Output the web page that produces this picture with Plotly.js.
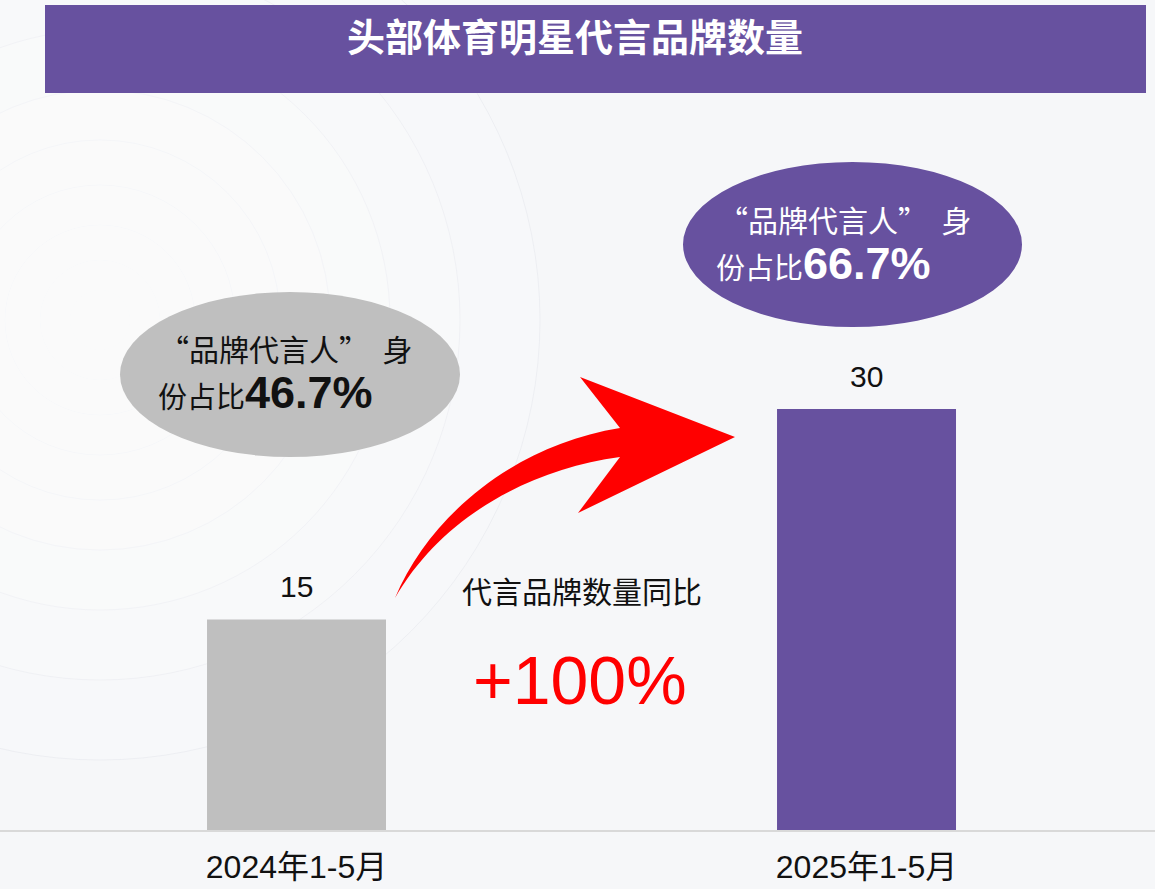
<!DOCTYPE html>
<html>
<head>
<meta charset="utf-8">
<script src="https://cdn.plot.ly/plotly-3.0.1.min.js"></script>
<style>
  html, body { margin: 0; padding: 0; background: #f6f7f9; }
  #chart { width: 1155px; height: 889px; }
</style>
</head>
<body>
<div id="chart"></div>
<script>
// chart data
const periods = ['2024年1-5月', '2025年1-5月'];
const brandCounts = [15, 30];
const spokespersonShare = ['46.7%', '66.7%'];
const yoyLabel = '代言品牌数量同比';
const yoyChange = '+100%';
const chartTitle = '头部体育明星代言品牌数量';

const W = 1155, H = 889;
const FONT = 'Liberation Sans, Noto Sans CJK SC, sans-serif';
const CJK = 'Noto Sans CJK SC, sans-serif';
const PURPLE = '#67519f';
const GRAY = '#bfbfbf';

// pixel -> paper helpers
function px(x) { return x / W; }
function py(y) { return 1 - y / H; }
function pt(x, y) { return px(x) + ',' + py(y); }

// faint rings in the background
let rings = [];
[30, 60, 95, 135, 180, 230, 290, 360, 440].forEach((r) => {
    rings.push({
        type: 'circle', layer: 'below',
        xref: 'paper', yref: 'paper',
        xsizemode: 'pixel', ysizemode: 'pixel',
        xanchor: px(100), yanchor: py(320),
        x0: -r, x1: r, y0: -r, y1: r,
        fillcolor: 'rgba(255,255,255,0.16)',
        line: { color: 'rgba(228,230,236,0.5)', width: 1 },
    });
});

// curved red arrow
const arrowPath = 'M' + pt(395, 598) +
    ' C' + pt(430, 515) + ' ' + pt(515, 445) + ' ' + pt(620, 428) +
    ' L' + pt(580, 377) + ' L' + pt(735, 437) + ' L' + pt(578, 513) +
    ' L' + pt(620, 457) +
    ' C' + pt(525, 470) + ' ' + pt(440, 520) + ' ' + pt(395, 598) + ' Z';

let shapes = rings.concat([
    // title banner
    { type: 'rect', xref: 'paper', yref: 'paper', x0: px(45), x1: px(1146), y0: py(93), y1: py(5),
      fillcolor: PURPLE, line: { width: 0 }, layer: 'below' },
    // share ellipses
    { type: 'circle', xref: 'paper', yref: 'paper', x0: px(120), x1: px(460), y0: py(457), y1: py(292),
      fillcolor: GRAY, line: { width: 0 } },
    { type: 'circle', xref: 'paper', yref: 'paper', x0: px(683), x1: px(1022), y0: py(327), y1: py(162),
      fillcolor: PURPLE, line: { width: 0 } },
    { type: 'path', xref: 'paper', yref: 'paper', path: arrowPath,
      fillcolor: '#ff0000', line: { width: 0 } },
]);

function note(x, y, text, font, xanchor) {
    return {
        xref: 'paper', yref: 'paper', x: px(x), y: py(y),
        xanchor: xanchor || 'center', yanchor: 'middle',
        text: text, showarrow: false, font: font,
    };
}

const line1 = '“品牌代言人”&nbsp;&nbsp;身';
function line2(share) {
    return '份占比<b><span style="font-family:Liberation Sans;font-size:45px">' + share + '</span></b>';
}

let annotations = [
    note(575, 38, '<b>' + chartTitle + '</b>', { family: FONT, size: 38, color: '#ffffff' }),
    // ellipse texts
    note(157, 348, line1, { family: CJK, size: 30, color: '#111111' }, 'left'),
    note(156, 392, line2(spokespersonShare[0]), { family: CJK, size: 29, color: '#111111' }, 'left'),
    note(716, 219, line1, { family: CJK, size: 30, color: '#ffffff' }, 'left'),
    note(714, 263, line2(spokespersonShare[1]), { family: CJK, size: 29, color: '#ffffff' }, 'left'),
    // year-over-year callout
    note(582, 590, yoyLabel, { family: CJK, size: 30, color: '#111111' }),
    note(580, 680, yoyChange, { family: FONT, size: 68, color: '#ff0000' }),
];

// value labels above bars
for (let i = 0; i < periods.length; ++i) {
    annotations.push({
        x: periods[i], y: brandCounts[i], xref: 'x', yref: 'y',
        text: String(brandCounts[i]), showarrow: false,
        yanchor: 'bottom', yshift: 14,
        font: { family: FONT, size: 30, color: '#111111' },
    });
}

const data = [{
    type: 'bar',
    x: periods,
    y: brandCounts,
    width: 0.314,
    marker: { color: [GRAY, PURPLE] },
    hoverinfo: 'skip',
}];

const layout = {
    width: W, height: H,
    margin: { l: 0, r: 0, t: 0, b: 0 },
    paper_bgcolor: '#f6f7f9',
    plot_bgcolor: 'rgba(0,0,0,0)',
    showlegend: false,
    xaxis: {
        type: 'category',
        range: [-0.5202, 1.5061],
        showline: true, linecolor: '#d9d9d9', linewidth: 2,
        ticks: 'outside', ticklen: 8, tickcolor: 'rgba(0,0,0,0)',
        tickfont: { family: FONT, size: 32, color: '#111111' },
        showgrid: false, zeroline: false, fixedrange: true,
    },
    yaxis: {
        domain: [59 / H, 1],
        range: [0, 59.14],
        visible: false, showgrid: false, zeroline: false, fixedrange: true,
    },
    shapes: shapes,
    annotations: annotations,
};

Plotly.newPlot('chart', data, layout, { displayModeBar: false, staticPlot: true });
</script>
</body>
</html>
